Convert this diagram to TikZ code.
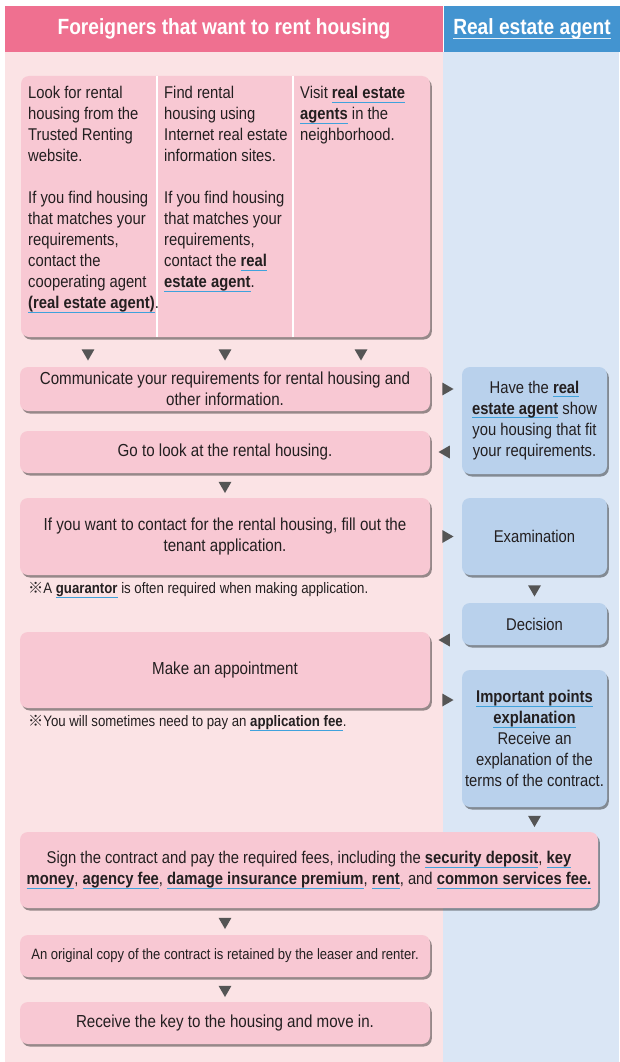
\documentclass[tikz,border=0pt]{standalone}
\usepackage{fontspec}
\setmainfont{Liberation Sans}[FakeStretch=0.87]
\newfontfamily\cjk{Noto Sans CJK JP}
\usepackage{tikz}
\usetikzlibrary{shapes.geometric}
\usetikzlibrary{shadows}
\usetikzlibrary{calc}
\definecolor{headpink}{HTML}{EF7090}
\definecolor{headblue}{HTML}{4394D0}
\definecolor{bgpink}{HTML}{FBE3E5}
\definecolor{bgblue}{HTML}{DAE6F5}
\definecolor{boxpink}{HTML}{F8C8D3}
\definecolor{boxblue}{HTML}{B9D1EC}
\definecolor{markgray}{HTML}{555555}
\definecolor{lineblue}{HTML}{3FA2DC}
\definecolor{textdark}{HTML}{231F20}
\newcommand\kw[1]{\leavevmode\setbox0\hbox{\bfseries#1}\rlap{\color{lineblue}\rule[-4pt]{\wd0}{1pt}}\box0\relax}
\newcommand\hdul[1]{\leavevmode\setbox0\hbox{#1}\rlap{\color{white!85!headblue}\rule[-4.5pt]{\wd0}{1.6pt}}\box0\relax}
\newcommand\refmark{{\cjk ※}}
\tikzset{
  every box/.style={rectangle,rounded corners=8pt,inner sep=0pt,align=center,text=textdark,
    font=\fontsize{17.4}{21}\selectfont,
    drop shadow={shadow xshift=1.8pt,shadow yshift=-2.5pt,fill=black,opacity=.4}},
  pinkbox/.style={every box,fill=boxpink},
  bluebox/.style={every box,fill=boxblue,font=\fontsize{17}{21}\selectfont},
  headbox/.style={rectangle,inner sep=0pt,minimum height=46pt,text=white,font=\bfseries\fontsize{22}{26}\selectfont},
  coltext/.style={anchor=north west,inner sep=0pt,align=left,text=textdark,font=\fontsize{17}{21}\selectfont},
  notetext/.style={anchor=west,inner sep=0pt,text=textdark,font=\fontsize{15.2}{18}\selectfont},
  divider/.style={draw=white,line width=2pt},
  arrowmark/.style={regular polygon,regular polygon sides=3,fill=markgray,inner sep=0pt,minimum size=15pt},
  downmark/.style={arrowmark,shape border rotate=180},
  rightmark/.style={arrowmark,shape border rotate=270},
  leftmark/.style={arrowmark,shape border rotate=90}}
\begin{document}
\begin{tikzpicture}[x=1pt,y=-1pt]
  \useasboundingbox (0,0) rectangle (619,1062);
  \fill[bgpink] (5,52) rectangle (443,1062);
  \fill[bgblue] (443,52) rectangle (619,1062);
  \node[headbox,fill=headpink,minimum width=438pt] (foreigners) at (224,29) {Foreigners that want to rent housing};
  \node[headbox,fill=headblue,minimum width=176pt] (agent) at (532,29) {\hdul{Real estate agent}};
  \node[pinkbox,minimum width=409pt,minimum height=261pt] (search) at (225.5,206.5) {};
  \draw[divider] ($(search.north west)!.333!(search.north east)$) -- ($(search.south west)!.333!(search.south east)$);
  \draw[divider] ($(search.north west)!.665!(search.north east)$) -- ($(search.south west)!.665!(search.south east)$);
  \node[coltext] (trusted) at (28,86) {Look for rental\\housing from the\\Trusted Renting\\website.\\[21pt]If you find housing\\that matches your\\requirements,\\contact the\\cooperating agent\\\kw{(real estate agent)}.};
  \node[coltext] (internet) at (164,86) {Find rental\\housing using\\Internet real estate\\information sites.\\[21pt]If you find housing\\that matches your\\requirements,\\contact the \kw{real}\\\kw{estate agent}.};
  \node[coltext] (visit) at (300,86) {Visit \kw{real estate}\\\kw{agents} in the\\neighborhood.};
  \node[pinkbox,minimum width=410pt,minimum height=44pt] (tell) at (225,389) {Communicate your requirements for rental housing and\\other information.};
  \node[pinkbox,minimum width=410pt,minimum height=42pt] (look) at (225,452) {Go to look at the rental housing.};
  \node[pinkbox,minimum width=410pt,minimum height=77pt] (apply) at (225,536.5) {If you want to contact for the rental housing, fill out the\\tenant application.};
  \node[notetext] (guarantor) at (28,590) {\refmark A \kw{guarantor} is often required when making application.};
  \node[pinkbox,minimum width=410pt,minimum height=76pt] (appoint) at (225,670) {Make an appointment};
  \node[notetext] (fee) at (28,723) {\refmark You will sometimes need to pay an \kw{application fee}.};
  \node[pinkbox,minimum width=578pt,minimum height=76pt,font=\fontsize{17}{21}\selectfont] (sign) at (309,870) {Sign the contract and pay the required fees, including the \kw{security deposit}, \kw{key}\\\kw{money}, \kw{agency fee}, \kw{damage insurance premium}, \kw{rent}, and \kw{common services fee.}};
  \node[pinkbox,minimum width=410pt,minimum height=42pt,font=\fontsize{15}{19}\selectfont] (copy) at (225,956) {An original copy of the contract is retained by the leaser and renter.};
  \node[pinkbox,minimum width=410pt,minimum height=42pt] (move) at (225,1023) {Receive the key to the housing and move in.};
  \node[bluebox,minimum width=145pt,minimum height=107pt] (show) at (534.5,420.5) {Have the \kw{real}\\\kw{estate agent} show\\you housing that fit\\your requirements.};
  \node[bluebox,minimum width=145pt,minimum height=77pt] (exam) at (534.5,536.5) {Examination};
  \node[bluebox,minimum width=145pt,minimum height=42pt] (decide) at (534.5,624) {Decision};
  \node[bluebox,minimum width=145pt,minimum height=137pt] (explain) at (534.5,738.5) {\kw{Important points}\\\kw{explanation}\\Receive an\\explanation of the\\terms of the contract.};
  \node[downmark] (m1) at (88,353) {};
  \node[downmark] (m2) at (225,353) {};
  \node[downmark] (m3) at (361,353) {};
  \node[rightmark] (m4) at ($(tell.east)!.5!(show.west |- tell.east)$) {};
  \node[leftmark] (m5) at ($(look.east)!.5!(show.west |- look.east)$) {};
  \node[downmark] (m6) at ($(look.south)!.5!(apply.north)$) {};
  \node[rightmark] (m7) at ($(apply.east)!.5!(exam.west)$) {};
  \node[downmark] (m8) at ($(exam.south)!.5!(decide.north)$) {};
  \node[leftmark] (m9) at (446,640) {};
  \node[rightmark] (m10) at (446,700) {};
  \node[downmark] (m11) at ($(explain.south)!.5!(explain.south |- sign.north)$) {};
  \node[downmark] (m12) at ($(sign.south -| copy.south)!.5!(copy.north)$) {};
  \node[downmark] (m13) at ($(copy.south)!.5!(move.north)$) {};
\end{tikzpicture}
\end{document}
